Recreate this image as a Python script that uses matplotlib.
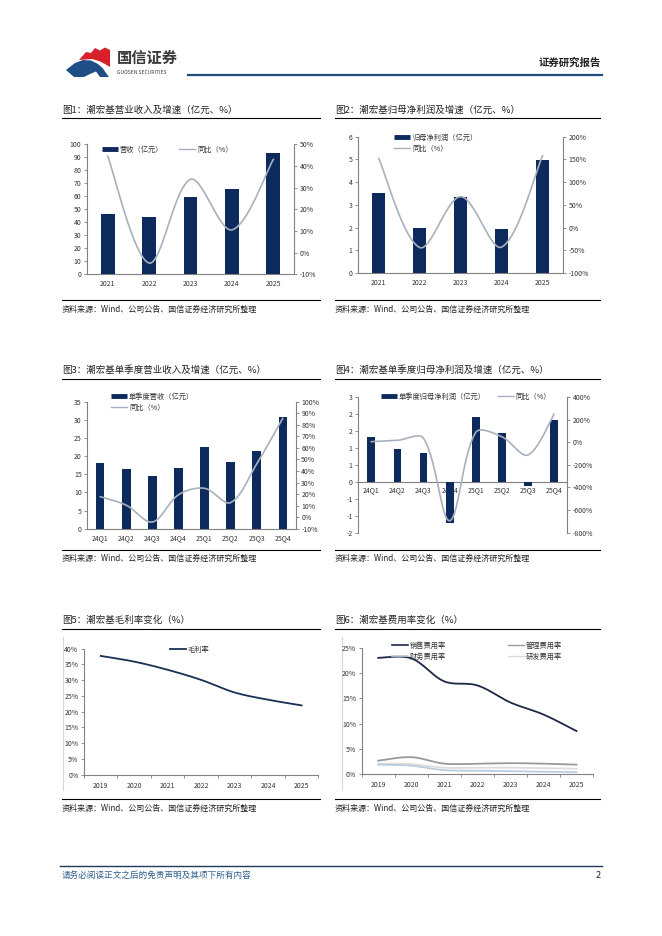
import matplotlib
matplotlib.use("Agg")
import matplotlib.pyplot as plt
import numpy as np
from matplotlib.lines import Line2D
from matplotlib.patches import Polygon

plt.rcParams['font.family'] = ['Noto Sans CJK SC', 'DejaVu Sans']
plt.rcParams['axes.unicode_minus'] = False

# ---- data ----
years = ['2021', '2022', '2023', '2024', '2025']
revenue = [46.7, 44.1, 59.2, 65.4, 93.2]
revenue_yoy = [44.5, -4.8, 33.8, 10.5, 43.0]
profit = [3.50, 1.98, 3.33, 1.93, 4.96]
profit_yoy = [152, -44, 68, -43, 158]

quarters = ['24Q1', '24Q2', '24Q3', '24Q4', '25Q1', '25Q2', '25Q3', '25Q4']
q_revenue = [18.1, 16.4, 14.4, 16.7, 22.6, 18.5, 21.5, 30.9]
q_revenue_yoy = [17.7, 10.3, -4.2, 19.4, 25.0, 12.6, 46.0, 85.5]
q_profit = [1.32, 0.98, 0.86, -1.20, 1.90, 1.43, -0.13, 1.81]
q_profit_yoy = [5, 17, 35, -694, 87, 49, -113, 247]

years7 = ['2019', '2020', '2021', '2022', '2023', '2024', '2025']
gross_margin = [37.7, 35.9, 33.3, 30.1, 26.1, 23.8, 22.0]
sales_rate = [23.1, 23.0, 18.4, 17.6, 14.2, 11.8, 8.5]
admin_rate = [2.6, 3.3, 2.0, 2.0, 2.1, 2.0, 1.8]
finance_rate = [1.8, 1.6, 0.7, 0.6, 0.5, 0.4, 0.3]
rd_rate = [2.0, 1.9, 1.2, 1.2, 1.2, 1.1, 1.0]

SOURCE = "资料来源：Wind、公司公告、国信证券经济研究所整理"
NAVY = '#0c2a5c'
LINE_GRAY = '#a9b0bd'
AX_GRAY = '#808080'
TXT = '#333333'

W, H = 662, 936
fig = plt.figure(figsize=(W / 100, H / 100), dpi=100)
page = fig.add_axes([0, 0, 1, 1], zorder=0)
page.set_xlim(0, W)
page.set_ylim(H, 0)
page.axis('off')


def fx(x):
    return x / W


def fy(y):
    return 1 - y / H


def panel(x0, y0, x1, y1):
    return fig.add_axes([fx(x0), fy(y1), (x1 - x0) / W, (y1 - y0) / H], zorder=2)


def smooth(ax, xs, ys, n=30):
    # Excel-like smoothed line: Bezier segments, tangents weighted by chord length
    # measured in screen pixels so short segments don't overshoot
    bb = ax.get_position()
    x0, x1 = ax.get_xlim()
    y0, y1 = ax.get_ylim()
    kx = bb.width * W / (x1 - x0)
    ky = bb.height * H / (y1 - y0)
    P = np.column_stack([np.asarray(xs, float) * kx, np.asarray(ys, float) * ky])
    m = len(P)
    d = np.linalg.norm(np.diff(P, axis=0), axis=1)
    T = np.zeros_like(P)
    T[1:-1] = P[2:] - P[:-2]
    t = np.linspace(0, 1, n)[:, None]
    segs = []
    for i in range(m - 1):
        p1, p2 = P[i], P[i + 1]
        if i == 0:
            c1 = p1 + (p2 - p1) / 6
        else:
            c1 = p1 + T[i] * d[i] / (d[i - 1] + d[i]) / 3
        if i == m - 2:
            c2 = p2 - (p2 - p1) / 6
        else:
            c2 = p2 - T[i + 1] * d[i] / (d[i] + d[i + 1]) / 3
        segs.append((1 - t) ** 3 * p1 + 3 * (1 - t) ** 2 * t * c1
                    + 3 * (1 - t) * t ** 2 * c2 + t ** 3 * p2)
    out = np.vstack(segs)
    return out[:, 0] / kx, out[:, 1] / ky


def style_left(ax):
    for s in ['top', 'right']:
        ax.spines[s].set_visible(False)
    for s in ['left', 'bottom']:
        ax.spines[s].set_color(AX_GRAY)
        ax.spines[s].set_linewidth(0.8)
    ax.tick_params(axis='y', direction='out', length=2, width=0.6, color=AX_GRAY,
                   labelsize=5, labelcolor=TXT, pad=2)
    ax.tick_params(axis='x', length=0, labelsize=5, labelcolor=TXT, pad=4)
    ax.set_facecolor('none')


def style_right(ax2):
    for s in ['top', 'left', 'bottom']:
        ax2.spines[s].set_visible(False)
    ax2.spines['right'].set_color(AX_GRAY)
    ax2.spines['right'].set_linewidth(0.8)
    ax2.tick_params(axis='y', direction='out', length=2, width=0.6, color=AX_GRAY,
                    labelsize=5, labelcolor=TXT, pad=2)


def pct(vals):
    return [f"{v:.0f}%" for v in vals]


def frame(x0, x1, title, y_title, y_tline, y_sline, y_src):
    page.text(x0, y_title, title, fontsize=6.8, color='#222222', va='center', ha='left')
    page.plot([x0, x1], [y_tline, y_tline], color='black', lw=0.8)
    page.plot([x0, x1], [y_sline, y_sline], color='black', lw=0.8)
    page.text(x0, y_src, SOURCE, fontsize=5.8, color='#222222', va='center', ha='left')


def bar_handle(label):
    return Line2D([], [], color=NAVY, lw=3.5, solid_capstyle='butt', label=label)


def line_handle(label, color=LINE_GRAY, lw=1.0):
    return Line2D([], [], color=color, lw=lw, label=label)


def put_legend(ax, handles, x, y, ncol=1, colsp=1.5, hl=2.2):
    ax.legend(handles=handles, loc='upper left', bbox_to_anchor=(fx(x), fy(y)),
              bbox_transform=fig.transFigure, frameon=False, ncol=ncol, fontsize=5.2,
              handlelength=hl, handletextpad=0.3, borderpad=0, borderaxespad=0,
              labelspacing=0.35, columnspacing=colsp, labelcolor=TXT)


# ---- header ----
red = Polygon([(79, 60), (86, 52), (91, 53), (95, 48), (100, 50.5), (105, 47.5), (110, 50),
               (110, 67), (105, 64), (99, 61), (92, 59)], closed=True,
              facecolor='#d7202a', edgecolor='none')
blue = Polygon([(66, 70), (75, 63), (83, 60), (91, 60.5), (98, 64), (103, 68.5), (106, 73),
                (109, 77), (100, 77), (96, 71.5), (90, 74), (84, 77), (74, 77)], closed=True,
               facecolor='#1f4e85', edgecolor='none')
page.add_patch(red)
page.add_patch(blue)
page.text(117, 58, "国信证券", fontsize=11, fontweight='bold', color='#3a3a3a', va='center', ha='left')
page.text(117, 72, "GUOSEN SECURITIES", fontsize=3.6, color='#3a3a3a', va='center', ha='left')
page.plot([188, 602], [75, 75], color='#1f4e79', lw=1.6)
page.text(601, 63, "证券研究报告", fontsize=7.5, fontweight='bold', color='#222222', va='center', ha='right')

# ---- footer ----
page.plot([60, 602], [866, 866], color='#1f3a5a', lw=1.0)
page.text(62, 875, "请务必阅读正文之后的免责声明及其项下所有内容", fontsize=6.2, color='#2e5c8a',
          va='center', ha='left', style='italic')
page.text(601, 876, "2", fontsize=6.5, color='#222222', va='center', ha='right')

# ---- frames ----
frame(62, 320, "图1：潮宏基营业收入及增速（亿元、%）", 110, 118, 300, 309)
frame(335, 600, "图2：潮宏基归母净利润及增速（亿元、%）", 110, 118, 300, 309)
frame(62, 320, "图3：潮宏基单季度营业收入及增速（亿元、%）", 370, 379, 550, 558)
frame(335, 600, "图4：潮宏基单季度归母净利润及增速（亿元、%）", 370, 379, 550, 558)
frame(62, 320, "图5：潮宏基毛利率变化（%）", 620, 629, 799, 808)
frame(335, 600, "图6：潮宏基费用率变化（%）", 620, 629, 799, 808)
page.plot([63, 63], [637, 790], color='#d6d6d6', lw=0.8)
page.plot([342, 342], [637, 790], color='#d6d6d6', lw=0.8)

# ---- chart 1 ----
ax = panel(87, 144.3, 294, 274.3)
xi = np.arange(len(years))
ax.bar(xi, revenue, width=0.33, color=NAVY)
ax.set_xlim(-0.5, len(years) - 0.5)
ax.set_ylim(0, 100)
ax.set_yticks(np.arange(0, 101, 10))
ax.set_xticks(xi)
ax.set_xticklabels(years)
style_left(ax)
ax2 = ax.twinx()
ax2.set_ylim(-10, 50)
sx, sy = smooth(ax2, xi, revenue_yoy)
ax2.plot(sx, sy, color=LINE_GRAY, lw=1.2)
t = np.arange(-10, 51, 10)
ax2.set_yticks(t)
ax2.set_yticklabels(pct(t))
style_right(ax2)
put_legend(ax2, [bar_handle("营收（亿元）"), line_handle("同比（%）")], 102, 146, ncol=2, colsp=2.2)

# ---- chart 2 ----
ax = panel(358.3, 136.7, 563, 273)
xi = np.arange(len(years))
ax.bar(xi, profit, width=0.31, color=NAVY)
ax.set_xlim(-0.5, len(years) - 0.5)
ax.set_ylim(0, 6)
ax.set_yticks(np.arange(0, 7, 1))
ax.set_xticks(xi)
ax.set_xticklabels(years)
style_left(ax)
ax2 = ax.twinx()
ax2.set_ylim(-100, 200)
sx, sy = smooth(ax2, xi, profit_yoy)
ax2.plot(sx, sy, color=LINE_GRAY, lw=1.2)
t = np.arange(-100, 201, 50)
ax2.set_yticks(t)
ax2.set_yticklabels(pct(t))
style_right(ax2)
put_legend(ax2, [bar_handle("归母净利润（亿元）"), line_handle("同比（%）")], 394, 134)

# ---- chart 3 ----
ax = panel(87.3, 401.7, 295.7, 528.7)
xi = np.arange(len(quarters))
ax.bar(xi, q_revenue, width=0.32, color=NAVY)
ax.set_xlim(-0.5, len(quarters) - 0.5)
ax.set_ylim(0, 35)
ax.set_yticks(np.arange(0, 36, 5))
ax.set_xticks(xi)
ax.set_xticklabels(quarters)
style_left(ax)
ax2 = ax.twinx()
ax2.set_ylim(-10, 100)
sx, sy = smooth(ax2, xi, q_revenue_yoy)
ax2.plot(sx, sy, color=LINE_GRAY, lw=1.2)
t = np.arange(-10, 101, 10)
ax2.set_yticks(t)
ax2.set_yticklabels(pct(t))
style_right(ax2)
put_legend(ax2, [bar_handle("单季度营收（亿元）"), line_handle("同比（%）")], 111, 393)

# ---- chart 4 ----
ax = panel(358.3, 397, 567, 532.7)
xi = np.arange(len(quarters))
ax.bar(xi, q_profit, width=0.3, color=NAVY, zorder=3)
ax.set_xlim(-0.5, len(quarters) - 0.5)
ax.set_ylim(-1.5, 2.5)
t = np.arange(-1.5, 2.51, 0.5)
ax.set_yticks(t)
ax.set_yticklabels([f"{int(np.sign(v) * np.floor(abs(v) + 0.5))}" for v in t])
ax.set_xticks(xi)
ax.set_xticklabels(quarters)
style_left(ax)
ax.spines['bottom'].set_position(('data', 0))
ax.tick_params(axis='x', pad=3)
ax.set_axisbelow(True)
ax2 = ax.twinx()
ax2.set_ylim(-800, 400)
sx, sy = smooth(ax2, xi, q_profit_yoy)
ax2.plot(sx, sy, color=LINE_GRAY, lw=1.2)
t = np.arange(-800, 401, 200)
ax2.set_yticks(t)
ax2.set_yticklabels(pct(t))
style_right(ax2)
put_legend(ax2, [bar_handle("单季度归母净利润（亿元）"), line_handle("同比（%）")], 381, 393,
           ncol=2, colsp=1.6)

# ---- chart 5 ----
ax = panel(84, 648.7, 318.3, 774.7)
xi = np.arange(len(years7))
ax.set_xlim(-0.5, len(years7) - 0.5)
ax.set_ylim(0, 40)
sx, sy = smooth(ax, xi, gross_margin)
ax.plot(sx, sy, color='#1a2f55', lw=1.3)
t = np.arange(0, 41, 5)
ax.set_yticks(t)
ax.set_yticklabels(pct(t))
ax.set_xticks(xi)
ax.set_xticklabels(years7)
ax.set_xticks(np.arange(-0.5, len(years7)), minor=True)
style_left(ax)
ax.tick_params(axis='x', which='minor', direction='out', length=2.5, width=0.6, color=AX_GRAY)
ax.tick_params(axis='x', pad=5)
put_legend(ax, [line_handle("毛利率", color='#1a2f55', lw=1.3)], 170, 646)

# ---- chart 6 ----
ax = panel(361.7, 648.3, 593, 773.7)
xi = np.arange(len(years7))
ax.set_xlim(-0.5, len(years7) - 0.5)
ax.set_ylim(0, 25)
for vals, col in [(rd_rate, '#dcdcdc'), (finance_rate, '#b9cde0'),
                  (admin_rate, '#9a9a9a'), (sales_rate, '#1c2a45')]:
    sx, sy = smooth(ax, xi, vals)
    ax.plot(sx, sy, color=col, lw=1.3)
t = np.arange(0, 26, 5)
ax.set_yticks(t)
ax.set_yticklabels(pct(t))
ax.set_xticks(xi)
ax.set_xticklabels(years7)
ax.set_xticks(np.arange(-0.5, len(years7)), minor=True)
style_left(ax)
ax.tick_params(axis='x', which='minor', direction='out', length=2.5, width=0.6, color=AX_GRAY)
ax.tick_params(axis='x', pad=5)
put_legend(ax, [line_handle("销售费用率", color='#1c2a45', lw=1.2),
                line_handle("财务费用率", color='#b9cde0', lw=1.2),
                line_handle("管理费用率", color='#9a9a9a', lw=1.0),
                line_handle("研发费用率", color='#dcdcdc', lw=1.0)],
           392, 642, ncol=2, colsp=8.5)

fig.savefig("out.png", dpi=100)
